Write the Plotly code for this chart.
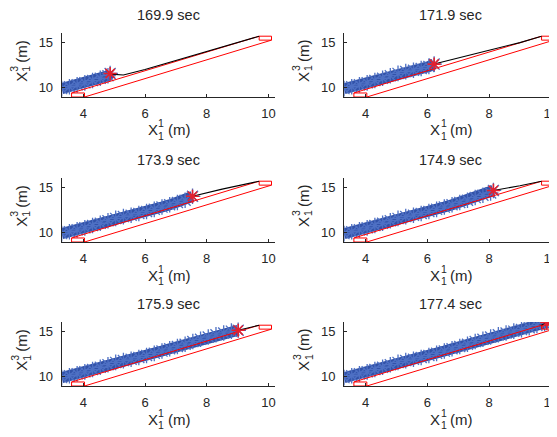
import plotly.graph_objects as go
from plotly.subplots import make_subplots

# ---------------- data ----------------
panel_titles = ["169.9 sec", "171.9 sec", "173.9 sec", "174.9 sec", "175.9 sec", "177.4 sec"]

# current position (red star) in each panel
star_x = [4.87, 6.22, 7.54, 8.14, 9.02, 9.87]
star_y = [11.57, 12.60, 14.00, 14.64, 15.10, 15.95]

# travelled trajectory (blue band centre)
traj_x = [3.30, 3.55, 3.80, 4.05, 4.30, 4.55, 4.80, 5.05, 5.30, 5.55, 5.80, 6.05, 6.30, 6.55,
          6.80, 7.05, 7.30, 7.55, 7.80, 8.05, 8.30, 8.55, 8.80, 9.05, 9.30, 9.55, 9.80, 9.87]
traj_y = [9.92, 10.12, 10.33, 10.55, 10.80, 11.05, 11.33, 11.58, 11.78, 11.93, 12.12, 12.33, 12.57, 12.82,
          13.07, 13.32, 13.57, 13.86, 14.11, 14.36, 14.60, 14.80, 15.00, 15.17, 15.37, 15.61, 15.85, 15.92]

# planned path (black) in each panel
plan_x = [
    [4.87, 5.30, 6.00, 8.00, 9.70],
    [6.22, 7.00, 8.00, 9.00, 9.70],
    [7.54, 8.50, 9.70],
    [8.14, 9.00, 9.70],
    [9.02, 9.70],
    [9.87, 9.70],
]
plan_y = [
    [11.50, 11.40, 12.00, 14.00, 15.65],
    [12.60, 13.30, 14.12, 14.95, 15.65],
    [14.00, 14.78, 15.65],
    [14.64, 15.15, 15.65],
    [15.10, 15.65],
    [15.95, 15.65],
]

# corridor (red)
corr_up_x = [3.62, 9.70]
corr_up_y = [9.44, 15.65]
corr_lo_x = [4.04, 10.10]
corr_lo_y = [9.00, 15.22]
start_box_x = [3.62, 4.04, 4.04, 3.62, 3.62]
start_box_y = [9.00, 9.00, 9.44, 9.44, 9.00]
goal_box_x = [9.70, 10.10, 10.10, 9.70, 9.70]
goal_box_y = [15.22, 15.22, 15.65, 15.65, 15.22]

x_range = [3.30, 10.20]
y_range = [9.0, 16.0]
x_ticks = [4, 6, 8, 10]
y_ticks = [10, 15]

# ---------------- layout geometry (window pixels) ----------------
OFF = 8                      # page body margin
W, H = 557 - OFF, 437 - OFF
col_px = [(61.7, 274.6), (344.0, 557.0)]
row_px = [(33.0, 97.0), (178.0, 242.0), (322.0, 386.0)]

def px(x):
    return (x - OFF) / W

def py(y):
    return 1 - (y - OFF) / H

FONT = "Liberation Sans, Arial, sans-serif"
TXT = "#262626"
BLUE_LINE = "rgb(50,82,168)"
BLUE_MK = "rgb(78,112,196)"
RED_STAR = "#e3202e"

fig = make_subplots(rows=3, cols=2)

for i in range(6):
    r, c = i // 2 + 1, i % 2 + 1
    # blue trajectory up to the current position
    bx = [x for x in traj_x if x < star_x[i]] + [star_x[i]]
    by = [y for x, y in zip(traj_x, traj_y) if x < star_x[i]] + [star_y[i]]
    fig.add_trace(go.Scatter(x=bx, y=by, mode="lines",
                             line=dict(color=BLUE_LINE, width=11),
                             hoverinfo="skip", showlegend=False), row=r, col=c)
    fig.add_trace(go.Scatter(x=bx, y=by, mode="markers",
                             marker=dict(symbol="asterisk-open", size=13, color=BLUE_MK,
                                         line=dict(color=BLUE_MK, width=1.3)),
                             hoverinfo="skip", showlegend=False), row=r, col=c)
    # red corridor
    for xs, ys in [(corr_up_x, corr_up_y), (corr_lo_x, corr_lo_y),
                   (start_box_x, start_box_y), (goal_box_x, goal_box_y)]:
        fig.add_trace(go.Scatter(x=xs, y=ys, mode="lines",
                                 line=dict(color="#ff0000", width=1),
                                 hoverinfo="skip", showlegend=False), row=r, col=c)
    # black planned path
    fig.add_trace(go.Scatter(x=plan_x[i], y=plan_y[i], mode="lines",
                             line=dict(color="#000000", width=1.1),
                             hoverinfo="skip", showlegend=False), row=r, col=c)
    # red star
    fig.add_trace(go.Scatter(x=[star_x[i]], y=[star_y[i]], mode="markers",
                             marker=dict(symbol="asterisk-open", size=11, color=RED_STAR,
                                         line=dict(color=RED_STAR, width=1.6)),
                             hoverinfo="skip", showlegend=False), row=r, col=c)

annotations = []

def ann(text, x, y, size, angle=0):
    annotations.append(dict(text=text, x=px(x), y=py(y), xref="paper", yref="paper",
                            showarrow=False, xanchor="center", yanchor="middle", textangle=angle,
                            font=dict(family=FONT, size=size, color=TXT)))

for i in range(6):
    ri, ci = i // 2, i % 2
    xl, xr = col_px[ci]
    yt, yb = row_px[ri]
    n = "" if i == 0 else str(i + 1)
    fig.layout["xaxis" + n].update(domain=[px(xl), min(1.0, px(xr))])
    fig.layout["yaxis" + n].update(domain=[py(yb), py(yt)])
    cx = (xl + xr) / 2
    cy = (yt + yb) / 2
    # title
    ann(panel_titles[i], cx, yt - 18, 14.5)
    # x label  X_1^1 (m)
    ann("X", cx - 15.5, yb + 33, 15)
    ann("1", cx - 7, yb + 26.5, 10.5)
    ann("1", cx - 7, yb + 38.5, 10.5)
    ann("(m)", cx + 11, yb + 33, 15)
    # y label  X_1^3 (m), rotated
    lx = xl - 41
    ann("X", lx, cy + 12, 15, -90)
    ann("3", lx - 6.5, cy + 3.5, 10.5, -90)
    ann("1", lx + 5.5, cy + 3.5, 10.5, -90)
    ann("(m)", lx, cy - 14, 15, -90)

axis_common = dict(showline=True, linecolor=TXT, linewidth=1, mirror=False,
                   ticks="inside", ticklen=3, tickcolor=TXT, tickwidth=1,
                   showgrid=False, zeroline=False,
                   tickfont=dict(family=FONT, size=13, color=TXT))
fig.update_xaxes(range=x_range, tickvals=x_ticks, ticklabelstandoff=4,
                 ticklabeloverflow="allow", **axis_common)
fig.update_yaxes(range=y_range, tickvals=y_ticks, ticklabelstandoff=5, **axis_common)

fig.update_layout(width=W, height=H, margin=dict(l=0, r=0, t=0, b=0),
                  paper_bgcolor="white", plot_bgcolor="white",
                  showlegend=False, annotations=annotations)

fig.write_html("out.html")
